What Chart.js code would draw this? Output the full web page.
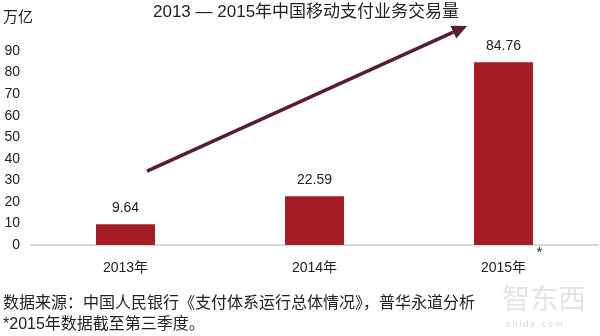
<!DOCTYPE html>
<html>
<head>
<meta charset="utf-8">
<script src="https://cdn.jsdelivr.net/npm/chart.js@4.4.1/dist/chart.umd.min.js"></script>
<style>
  html, body { margin:0; padding:0; background:#fff; }
  #wrap { position:relative; width:600px; height:336px; overflow:hidden;
    font-family:"Liberation Sans","Noto Sans CJK SC",Arial,sans-serif; color:#222; }
  canvas { position:absolute; left:0; top:0; }
  .t { position:absolute; white-space:nowrap; }
</style>
</head>
<body>
<div id="wrap">
  <canvas id="c" width="600" height="336"></canvas>
  <div class="t" style="left:153px;top:2px;font-size:17px;line-height:20px;">2013 — 2015年中国移动支付业务交易量</div>
  <div class="t" style="left:3px;top:8px;font-size:15px;line-height:18px;">万亿</div>
  <div class="t" style="left:3px;top:293px;font-size:16px;line-height:20px;">数据来源：中国人民银行《支付体系运行总体情况》，普华永道分析</div>
  <div class="t" style="left:3px;top:314px;font-size:16px;line-height:20px;">*2015年数据截至第三季度。</div>
  <div class="t" style="left:502px;top:284px;font-size:28px;line-height:32px;color:#e4e4e4;">智东西</div>
  <div class="t" style="left:506px;top:318px;font-size:9px;line-height:12px;letter-spacing:2px;color:#d8d8d8;">zhidx.com</div>
</div>
<script>
const categories = ["2013年", "2014年", "2015年"];
const volumes = [9.64, 22.59, 84.76];
const yTicks = [0, 10, 20, 30, 40, 50, 60, 70, 80, 90];
// arrow endpoints in data space: [category position, value]
const arrowStart = [0.114, 34.3];
const arrowEnd = [1.807, 101.6];
const footMarkAt = [2.19, -3.5];

const FONT = '"Liberation Sans","Noto Sans CJK SC",Arial,sans-serif';

const overlay = {
  id: 'overlay',
  afterDatasetsDraw(chart) {
    const ctx = chart.ctx, xs = chart.scales.x, ys = chart.scales.y;
    ctx.save();
    ctx.font = '14px ' + FONT;
    ctx.fillStyle = '#222';
    ctx.textAlign = 'center';
    ctx.textBaseline = 'middle';
    const meta = chart.getDatasetMeta(0);
    meta.data.forEach((bar, i) => {
      ctx.fillText(volumes[i].toFixed(2), bar.x, bar.y - 16);
    });
    ctx.font = '15px ' + FONT;
    ctx.fillText('*', xs.getPixelForValue(footMarkAt[0]), ys.getPixelForValue(footMarkAt[1]));
    const x1 = xs.getPixelForValue(arrowStart[0]), y1 = ys.getPixelForValue(arrowStart[1]);
    const x2 = xs.getPixelForValue(arrowEnd[0]), y2 = ys.getPixelForValue(arrowEnd[1]);
    const ang = Math.atan2(y2 - y1, x2 - x1);
    const headLen = 15, headW = 7;
    const bx = x2 - headLen * Math.cos(ang), by = y2 - headLen * Math.sin(ang);
    ctx.strokeStyle = '#5a1e2b';
    ctx.fillStyle = '#5a1e2b';
    ctx.lineWidth = 3.5;
    ctx.beginPath();
    ctx.moveTo(x1, y1);
    ctx.lineTo(bx, by);
    ctx.stroke();
    ctx.beginPath();
    ctx.moveTo(x2, y2);
    ctx.lineTo(bx + headW * Math.sin(ang), by - headW * Math.cos(ang));
    ctx.lineTo(bx - headW * Math.sin(ang), by + headW * Math.cos(ang));
    ctx.closePath();
    ctx.fill();
    ctx.restore();
  }
};

new Chart(document.getElementById('c'), {
  type: 'bar',
  data: {
    labels: categories,
    datasets: [{
      data: volumes,
      backgroundColor: '#a51c24',
      borderWidth: 0,
      categoryPercentage: 1,
      barPercentage: 0.312
    }]
  },
  options: {
    responsive: false,
    animation: false,
    events: [],
    layout: { padding: { top: 51, right: 2, left: 0, bottom: 0 } },
    plugins: { legend: { display: false }, title: { display: false }, tooltip: { enabled: false } },
    scales: {
      x: {
        grid: { display: false, drawTicks: false },
        border: { display: true, color: '#d9d9d9', width: 2 },
        ticks: { color: '#222', font: { size: 14, family: FONT }, padding: 15, maxRotation: 0 },
        afterFit(s) { s.height = 91; }
      },
      y: {
        min: 0, max: 90,
        grid: { display: false, drawTicks: false },
        border: { display: false },
        afterBuildTicks(s) { s.ticks = yTicks.map(v => ({ value: v })); },
        ticks: { color: '#222', font: { size: 14, family: FONT }, padding: 11 },
        afterFit(s) { s.width = 31; }
      }
    }
  },
  plugins: [overlay]
});
</script>
</body>
</html>
